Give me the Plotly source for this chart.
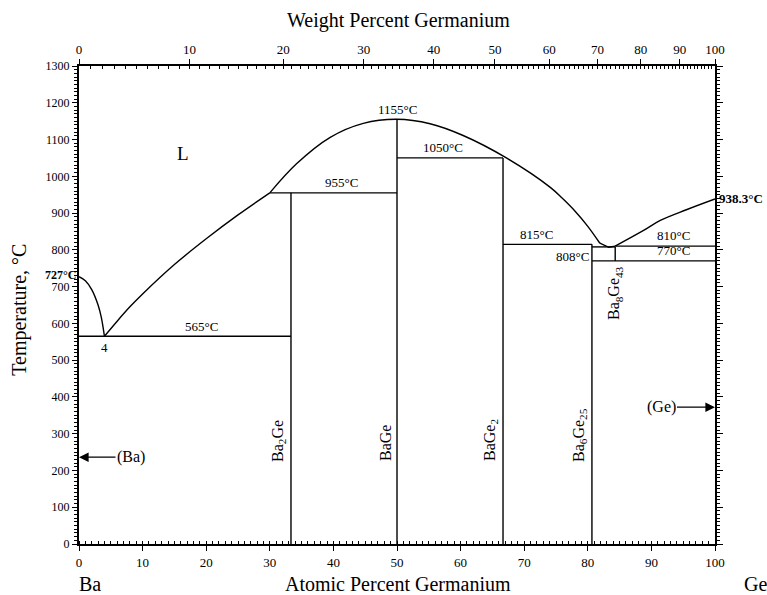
import plotly.graph_objects as go

# ---------------- data ----------------
# liquidus branches (atomic % Ge, temperature °C)
liq_ba_x = [0, 1, 2, 3, 3.5, 4]
liq_ba_t = [727, 716, 692, 650, 617, 565]
liq_a_x = [4, 6, 8, 10, 15, 20, 25, 30]
liq_a_t = [565, 606, 645, 680, 760, 830, 895, 955]
liq_b_x = [30, 34.2, 39.5, 44.7, 50, 55.2, 60.4, 67.2, 74.1, 76, 78, 80, 81.9]
liq_b_t = [955, 1034, 1106, 1144, 1155, 1143, 1111, 1050, 970, 940, 905, 864, 818]
eut_x = [81.9, 83.3, 84.3]
eut_t = [818, 807, 810]
liq_ge_x = [84.3, 88.7, 91.4, 95.5, 100]
liq_ge_t = [810, 852, 880, 909, 938.3]

# isotherms
iso_x0 = [0, 30, 50, 66.67, 80.65, 84.31, 80.65]
iso_x1 = [33.33, 50, 66.67, 80.65, 84.31, 100, 100]
iso_t = [565, 955, 1050, 815, 808, 810, 770]

# compounds
cmp_x = [33.33, 50, 66.67, 80.65, 84.31]
cmp_lo = [0, 0, 0, 0, 770]
cmp_hi = [955, 1155, 1050, 815, 808]
cmp_name = ["Ba<sub>2</sub>Ge", "BaGe", "BaGe<sub>2</sub>",
            "Ba<sub>6</sub>Ge<sub>25</sub>", "Ba<sub>8</sub>Ge<sub>43</sub>"]

# temperature labels
tlab_text = ["1155°C", "1050°C", "955°C", "565°C", "815°C", "810°C", "770°C"]
tlab_x = [50, 57.3, 41.3, 19.2, 71.9, 93.4, 93.4]
tlab_t = [1157, 1052, 957, 567, 817, 812, 772]

x_ticks = list(range(0, 101, 10))
y_ticks = list(range(0, 1301, 100))
wt_ticks = list(range(0, 101, 10))
M_BA, M_GE = 137.33, 72.63


def wt_to_at(w):
    if w <= 0:
        return 0.0
    if w >= 100:
        return 100.0
    a = w / M_GE
    b = (100 - w) / M_BA
    return 100 * a / (a + b)


FONT = "Liberation Serif"
BLACK = "#000000"
LW = 1.4

fig = go.Figure()


def add_line(xs, ys, shape="linear", **kw):
    fig.add_trace(go.Scatter(x=xs, y=ys, mode="lines",
                             line=dict(color=BLACK, width=LW, shape=shape),
                             hoverinfo="skip", showlegend=False, **kw))


add_line(liq_ba_x, liq_ba_t, "spline")
add_line(liq_a_x, liq_a_t, "spline")
add_line(liq_b_x, liq_b_t, "spline")
add_line(eut_x, eut_t)
add_line(liq_ge_x, liq_ge_t, "spline")
for x0, x1, t in zip(iso_x0, iso_x1, iso_t):
    add_line([x0, x1], [t, t])
for x, lo, hi in zip(cmp_x, cmp_lo, cmp_hi):
    add_line([x, x], [lo, hi])

# invisible traces to activate the secondary axes
fig.add_trace(go.Scatter(x=[0, 100], y=[0, 0], xaxis="x2", yaxis="y",
                         mode="markers", marker=dict(opacity=0),
                         hoverinfo="skip", showlegend=False))
fig.add_trace(go.Scatter(x=[0, 100], y=[0, 0], xaxis="x", yaxis="y2",
                         mode="markers", marker=dict(opacity=0),
                         hoverinfo="skip", showlegend=False))

tickfont = dict(family=FONT, size=13, color=BLACK)
fig.update_layout(
    width=767, height=595,
    margin=dict(l=79, r=52, t=66, b=51),
    paper_bgcolor="white", plot_bgcolor="white",
    font=dict(family=FONT, color=BLACK),
    xaxis=dict(range=[0, 100], tickvals=x_ticks, ticks="outside", ticklen=5,
               tickwidth=1.2, tickcolor=BLACK, showgrid=False, zeroline=False,
               showline=True, linewidth=2, linecolor=BLACK, tickfont=tickfont,
               minor=dict(dtick=1, ticks="inside", ticklen=3, tickcolor=BLACK,
                          tickwidth=1, showgrid=False)),
    xaxis2=dict(range=[0, 100], overlaying="x", side="top", anchor="y",
                tickvals=[wt_to_at(w) for w in wt_ticks],
                ticktext=[str(w) for w in wt_ticks],
                ticks="outside", ticklen=5, tickwidth=1.2, tickcolor=BLACK,
                showgrid=False, zeroline=False, showline=True, linewidth=2,
                linecolor=BLACK, tickfont=tickfont,
                minor=dict(tickvals=[wt_to_at(w) for w in range(1, 100)],
                           ticks="inside", ticklen=3, tickcolor=BLACK,
                           tickwidth=1, showgrid=False)),
    yaxis=dict(range=[0, 1300], tickvals=y_ticks, ticks="outside", ticklen=5,
               tickwidth=1.2, tickcolor=BLACK, showgrid=False, zeroline=False,
               showline=True, linewidth=2, linecolor=BLACK,
               tickfont=dict(family=FONT, size=12, color=BLACK),
               minor=dict(dtick=10, ticks="outside", ticklen=3,
                          tickcolor=BLACK, tickwidth=1, showgrid=False)),
    yaxis2=dict(range=[0, 1300], overlaying="y", side="right", anchor="x",
                tickvals=y_ticks, showticklabels=False, ticks="outside",
                ticklen=6, tickwidth=1.2, tickcolor=BLACK, showgrid=False,
                zeroline=False, showline=True, linewidth=2, linecolor=BLACK,
                minor=dict(dtick=10, ticks="outside", ticklen=3,
                           tickcolor=BLACK, tickwidth=1, showgrid=False)),
)

ann = []
for txt, x, t in zip(tlab_text, tlab_x, tlab_t):
    ann.append(dict(x=x, y=t, text=txt, showarrow=False, yanchor="bottom",
                    xanchor="center", font=dict(size=13)))
ann.append(dict(x=80.65, y=808, text="808°C", showarrow=False,
                xanchor="right", yanchor="top", xshift=-1,
                font=dict(size=13)))
ann.append(dict(x=4, y=560, text="4", showarrow=False, yanchor="top",
                xanchor="center", font=dict(size=13)))
ann.append(dict(x=16.4, y=1062, text="L", showarrow=False,
                xanchor="center", yanchor="middle", font=dict(size=19)))
ann.append(dict(x=0, y=727, text="<b>727°C</b>", showarrow=False,
                xanchor="right", yanchor="middle", xshift=-1, yshift=2,
                font=dict(size=12)))
ann.append(dict(x=100, y=938.3, text="<b>938.3°C</b>", showarrow=False,
                xanchor="left", yanchor="middle", xshift=2,
                font=dict(size=13)))
for x, name in zip(cmp_x[:4], cmp_name[:4]):
    ann.append(dict(x=x, y=219, text=name, showarrow=False, textangle=-90,
                    xanchor="right", yanchor="bottom", xshift=-1,
                    font=dict(size=16)))
ann.append(dict(x=cmp_x[4], y=762, text=cmp_name[4], showarrow=False,
                textangle=-90, xanchor="center", yanchor="top",
                font=dict(size=16)))
# terminal solid solution arrows
ann.append(dict(x=0, y=236, text="(Ba)", showarrow=True, ax=52, ay=0,
                arrowhead=2, arrowsize=1.6, arrowwidth=1.2, arrowcolor=BLACK,
                font=dict(size=16)))
ann.append(dict(x=100, y=372, text="(Ge)", showarrow=True, ax=-54, ay=0,
                arrowhead=2, arrowsize=1.6, arrowwidth=1.2, arrowcolor=BLACK,
                font=dict(size=16)))
# axis titles and element names
ttl = dict(xref="paper", yref="paper", showarrow=False,
           xanchor="center", yanchor="middle", font=dict(size=20))
ann.append(dict(x=0.5016, y=1.096, text="Weight Percent Germanium", **ttl))
ann.append(dict(x=0.5016, y=-0.0835, text="Atomic Percent Germanium", **ttl))
ann.append(dict(x=0.017, y=-0.0835, text="Ba", **ttl))
ann.append(dict(x=1.063, y=-0.0835, text="Ge", **ttl))
ann.append(dict(x=-0.0928, y=0.49, text="Temperature, °C", textangle=-90,
                **ttl))
fig.update_layout(annotations=ann)

fig.write_html("out.html",
               config={"displayModeBar": False},
               post_script="document.body.style.margin='0';"
                           "document.body.style.overflow='hidden';")
